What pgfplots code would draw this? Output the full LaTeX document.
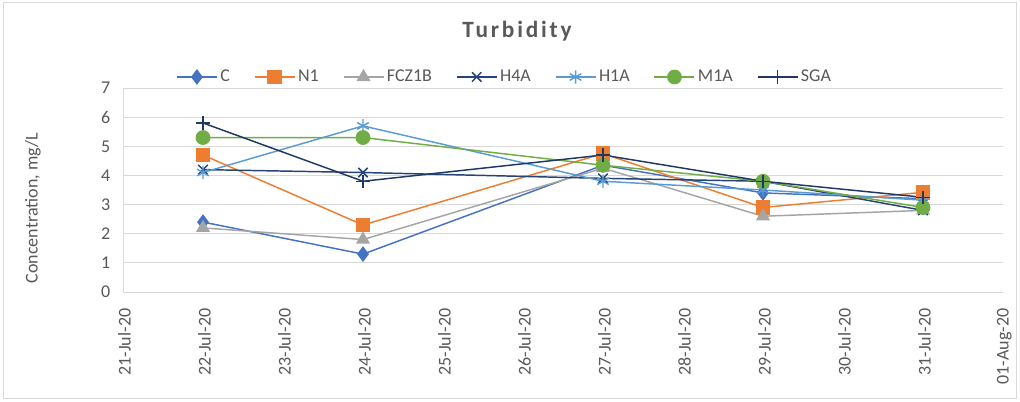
\documentclass[border=0pt]{standalone}
\usepackage{pgfplots}
\pgfplotsset{compat=1.18}
\usepackage{fontspec}
\setmainfont{Carlito}
\usetikzlibrary{plotmarks}
\definecolor{cC}{HTML}{4472C4}
\definecolor{cN}{HTML}{ED7D31}
\definecolor{cF}{HTML}{A5A5A5}
\definecolor{cH4}{HTML}{264478}
\definecolor{cH1}{HTML}{5B9BD5}
\definecolor{cM}{HTML}{70AD47}
\definecolor{cS}{HTML}{203864}
\definecolor{gridc}{HTML}{D9D9D9}
\definecolor{txt}{HTML}{595959}
\begin{document}
\begin{tikzpicture}
\path[use as bounding box] (0,0) rectangle (765pt,300.75pt);
\draw[color=gridc, line width=0.75pt] (2.25pt,2.25pt) rectangle (762pt,298.5pt);
\node[text=txt, font=\fontsize{17.5}{20}\selectfont\bfseries\addfontfeature{LetterSpace=12}] at (387.75pt,277.5pt) {Turbidity};
\node[text=txt, rotate=90, font=\fontsize{13.5}{16}\selectfont] at (24.75pt,144.75pt) {Concentration, mg/L};
\begin{axis}[
  at={(92.25pt,81.75pt)}, anchor=south west,
  scale only axis, width=660pt, height=153pt,
  xmin=21, xmax=32, ymin=0, ymax=7,
  xtick={21,...,32},
  xticklabels={21-Jul-20,22-Jul-20,23-Jul-20,24-Jul-20,25-Jul-20,26-Jul-20,27-Jul-20,28-Jul-20,29-Jul-20,30-Jul-20,31-Jul-20,01-Aug-20},
  ytick={0,...,7},
  ymajorgrids, grid style={color=gridc, line width=0.75pt},
  axis x line*=bottom, axis y line*=left,
  axis line style={color=gridc, line width=0.75pt, -},
  major tick length=0pt,
  tick label style={text=txt, font=\fontsize{13.5}{16}\selectfont},
  /pgf/number format/assume math mode=true,
  x tick label style={rotate=90, anchor=east, xshift=-9pt, yshift=-1pt},
  y tick label style={xshift=-6pt},
  legend columns=7,
  legend style={at={(0.434,1.054)}, anchor=center, draw=none, fill=none,
    font=\fontsize{13.5}{16}\selectfont, text=txt,
    /tikz/every even column/.append style={column sep=16pt}},
  legend cell align=left,
  legend image code/.code={
    \draw[#1, mark repeat=2, mark phase=2] plot coordinates {(0pt,0pt) (15pt,0pt) (30pt,0pt)};
  },
  every axis plot/.append style={line width=1.1pt},
]
\addplot[color=cC, mark=diamond*, mark size=5pt, mark options={fill=cC}] coordinates {(22,2.4) (24,1.3) (27,4.35) (29,3.4) (31,3.2)};
\addlegendentry{C}
\addplot[color=cN, mark=square*, mark size=5pt, mark options={fill=cN}] coordinates {(22,4.7) (24,2.3) (27,4.75) (29,2.9) (31,3.42)};
\addlegendentry{N1}
\addplot[color=cF, mark=triangle*, mark size=5pt, mark options={fill=cF}] coordinates {(22,2.2) (24,1.8) (27,4.25) (29,2.6) (31,2.8)};
\addlegendentry{FCZ1B}
\addplot[color=cH4, mark=x, mark size=5pt] coordinates {(22,4.2) (24,4.1) (27,3.9) (29,3.8) (31,2.8)};
\addlegendentry{H4A}
\addplot[color=cH1, mark=asterisk, mark size=5pt] coordinates {(22,4.1) (24,5.7) (27,3.8) (29,3.5) (31,3.15)};
\addlegendentry{H1A}
\addplot[color=cM, mark=*, mark size=5pt, mark options={fill=cM}] coordinates {(22,5.3) (24,5.3) (27,4.35) (29,3.8) (31,2.9)};
\addlegendentry{M1A}
\addplot[color=cS, mark=+, mark size=5pt] coordinates {(22,5.8) (24,3.8) (27,4.7) (29,3.8) (31,3.25)};
\addlegendentry{SGA}
\end{axis}
\end{tikzpicture}
\end{document}
